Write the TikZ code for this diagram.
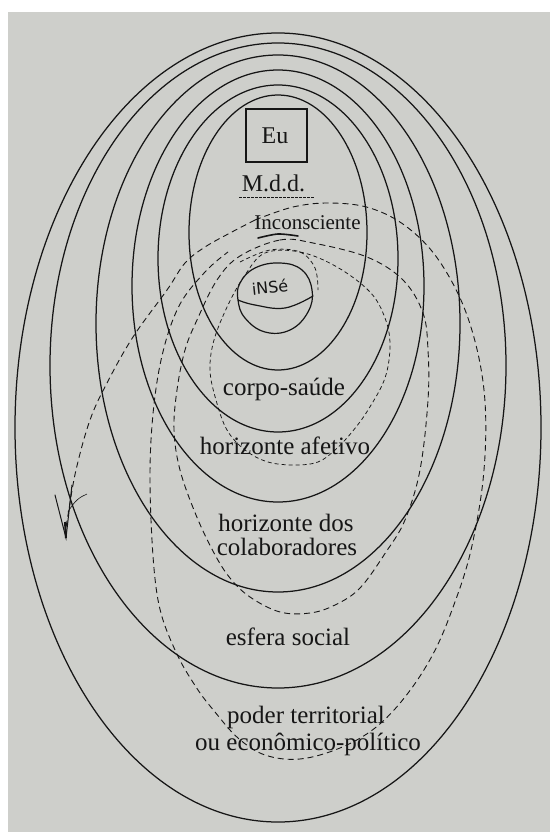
\documentclass[tikz,border=0pt]{standalone}
\usepackage{fontspec}
\setmainfont{Liberation Serif}
\newfontfamily\handfont{DejaVu Sans}
\definecolor{paper}{RGB}{206,207,203}
\definecolor{ink}{RGB}{22,22,22}
\begin{document}
\begin{tikzpicture}[x=1pt,y=-1pt,
  ring/.style={draw=ink, line width=1.25pt},
  dashline/.style={draw=ink, line width=0.9pt, dash pattern=on 6pt off 4pt},
  dashfine/.style={draw=ink, line width=0.75pt, dash pattern=on 4pt off 3pt},
  lbl/.style={font=\rmfamily\fontsize{25}{25}\selectfont, text=ink, inner sep=0pt, anchor=base},
  hand/.style={draw=ink, line width=1.2pt, line cap=round, line join=round},
]
\fill[white] (0,0) rectangle (550,832);
\fill[paper] (8,12) rectangle (550,832);
\useasboundingbox (0,0) rectangle (550,832);

% nested ellipses
\draw[ring] (278,232.5) ellipse [x radius=89pt, y radius=137.5pt];
\draw[ring] (278,258.5) ellipse [x radius=120pt, y radius=173.5pt];
\draw[ring] (278,286) ellipse [x radius=146pt, y radius=216pt];
\draw[ring] (278,323.5) ellipse [x radius=182pt, y radius=268.5pt];
\draw[ring] (278,365.5) ellipse [x radius=228pt, y radius=322.5pt];
\draw[ring] (278,427.5) ellipse [x radius=263pt, y radius=394.5pt];

% Eu box and labels
\node[draw=ink, line width=1.7pt, minimum width=61pt, minimum height=53pt, inner sep=0pt] (eubox) at (276.5,135.5) {};
\node[lbl, font=\rmfamily\fontsize{24}{24}\selectfont] (eu) at (275,143) {Eu};
\node[lbl, font=\rmfamily\fontsize{24}{24}\selectfont] (mdd) at (273.5,191) {M.d.d.};
\draw[ink, line width=0.9pt, dash pattern=on 2.5pt off 1.5pt] (239,197) -- (315,197);
\node[lbl, font=\rmfamily\fontsize{21}{21}\selectfont] (incons) at (307.5,229) {Inconsciente};

\node[lbl] (corpo) at (284,395) {corpo-saúde};
\node[lbl] (afet) at (285,454) {horizonte afetivo};
\node[lbl] (colab1) at (286,531) {horizonte dos};
\node[lbl] (colab2) at (287,555) {colaboradores};
\node[lbl] (esfera) at (288,645) {esfera social};
\node[lbl] (poder1) at (306,723) {poder territorial};
\node[lbl] (poder2) at (308,750) {ou econômico-político};

% hand-drawn blob "iNSé"
\node[font=\handfont\fontsize{16}{16}\selectfont, text=ink, rotate=6] (inse) at (270,287) {iNSé};
\draw[hand] plot[smooth cycle, tension=0.7] coordinates {(240,283) (255,268) (280,263) (302,270) (312,290) (308,312) (290,330) (265,332) (245,318) (238,300)};
\draw[hand] plot[smooth, tension=0.7] coordinates {(238,300) (255,305) (285,308) (313,296)};
\draw[hand, line width=1.6pt] plot[smooth] coordinates {(258,238) (278,234) (298,236)};

% dashed loops
\draw[dashline] plot[smooth, tension=0.6] coordinates {(255,220) (293,207) (330,203) (370,208) (407,227) (440,262) (468,318) (484,390) (484,470) (471,550) (452,610) (432,656) (405,697) (375,728) (340,748) (300,759) (265,755) (238,738) (215,712) (196,687) (175,650) (158,600) (151,520) (151,440) (160,365) (178,308) (205,272) (228,252)};
\draw[dashline] plot[smooth cycle, tension=0.6] coordinates {(240,256) (280,240) (313,243) (367,257) (403,280) (423,313) (428,350) (428,400) (420,470) (405,520) (386,552) (360,588) (335,605) (310,613) (280,612) (250,597) (230,578) (214,553) (196,515) (180,470) (174,430) (177,390) (185,350) (197,320) (217,280)};
\draw[dashfine] plot[smooth cycle, tension=0.6] coordinates {(265,253) (300,252) (337,267) (370,292) (385,318) (390,345) (385,378) (368,410) (352,432) (335,450) (318,462) (295,465) (268,462) (245,450) (227,430) (216,400) (210,370) (214,340) (228,305) (245,275)};
\draw[dashfine] plot[smooth, tension=0.6] coordinates {(240,262) (270,250) (300,252) (315,268) (318,290)};

% dashed arrow to the left
\coordinate (tip) at (66,538);
\draw[dashline] plot[smooth, tension=0.6] coordinates {(255,220) (230,233) (205,247) (185,263) (167,290) (133,337) (107,383) (90,420) (76,470) (68,515) (66,528)};
\draw[ink, line width=1pt, line cap=round] (55,495) -- (tip) -- (72,485);
\draw[ink, line width=2pt] (65,522) -- (tip);
\draw[ink, line width=0.6pt] (68,512) .. controls (75,500) and (80,497) .. (87,494);
\end{tikzpicture}
\end{document}
